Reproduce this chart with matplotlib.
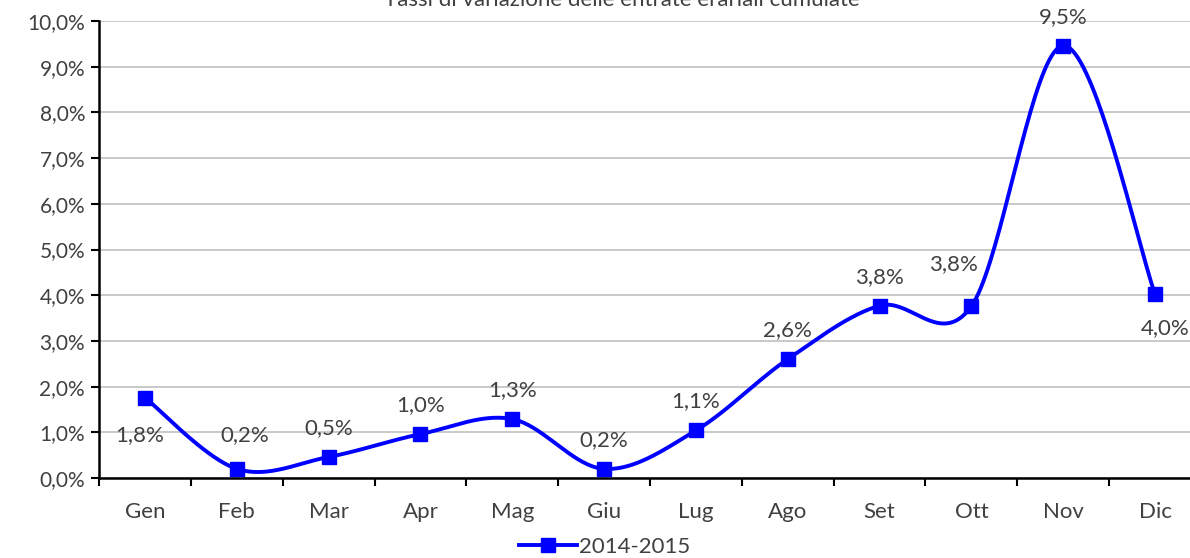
import numpy as np
import matplotlib
matplotlib.use("Agg")
import matplotlib.pyplot as plt
from matplotlib.ticker import FuncFormatter, MultipleLocator
from matplotlib.lines import Line2D

months = ["Gen", "Feb", "Mar", "Apr", "Mag", "Giu", "Lug", "Ago", "Set", "Ott", "Nov", "Dic"]
values = [1.76, 0.20, 0.46, 0.96, 1.29, 0.20, 1.04, 2.60, 3.77, 3.76, 9.46, 4.02]
labels = ["1,8%", "0,2%", "0,5%", "1,0%", "1,3%", "0,2%", "1,1%", "2,6%", "3,8%", "3,8%", "9,5%", "4,0%"]
series_name = "2014-2015"
title = "Tassi di variazione delle entrate erariali cumulate"

plt.rcParams['font.family'] = ['Lato', 'DejaVu Sans']
TXT = '#404040'

fig = plt.figure(figsize=(11.9, 5.58), dpi=100)
ax = fig.add_axes([99/1190, 1-478/558, 1102/1190, 457/558])

x = np.arange(len(values))
y = np.array(values, dtype=float)

# Excel-like smoothed line (cubic Bezier, Catmull-Rom control points)
xs, ys = [], []
n = len(x)
for i in range(n - 1):
    p0 = np.array([x[max(i-1, 0)], y[max(i-1, 0)]])
    p1 = np.array([x[i], y[i]])
    p2 = np.array([x[i+1], y[i+1]])
    p3 = np.array([x[min(i+2, n-1)], y[min(i+2, n-1)]])
    c1 = p1 + (p2 - p0) / 6.0
    c2 = p2 - (p3 - p1) / 6.0
    t = np.linspace(0, 1, 40)[:, None]
    pts = (1-t)**3*p1 + 3*(1-t)**2*t*c1 + 3*(1-t)*t**2*c2 + t**3*p2
    xs.extend(pts[:, 0]); ys.extend(pts[:, 1])

ax.plot(xs, ys, color='#0000FF', lw=2.8, zorder=3)
ax.plot(x, y, ls='none', marker='s', ms=10, color='#0000FF', zorder=4)

ax.set_xlim(-0.5, n - 0.5)
ax.set_ylim(0, 10)
ax.yaxis.set_major_locator(MultipleLocator(1))
ax.yaxis.set_major_formatter(FuncFormatter(lambda v, p: f"{v:.1f}%".replace('.', ',')))
ax.set_xticks(x)
ax.set_xticklabels(months)
ax.set_xticks(np.arange(-0.5, n, 1), minor=True)
ax.tick_params(axis='x', which='major', length=0, pad=17, labelsize=16, labelcolor=TXT)
ax.tick_params(axis='x', which='minor', length=6, width=1.5, direction='out')
ax.tick_params(axis='y', length=6, width=1.5, direction='out', labelsize=15, labelcolor=TXT, pad=4)
ax.grid(axis='y', color='#C0C0C0', lw=1.2)
ax.set_axisbelow(True)
for s in ['top', 'right']:
    ax.spines[s].set_visible(False)
for s in ['left', 'bottom']:
    ax.spines[s].set_linewidth(1.8)

offsets = {0: (-5, -38), 1: (8, 34), 9: (-18, 42), 11: (10, -34)}
for i, (xi, yi, lb) in enumerate(zip(x, y, labels)):
    dx, dy = offsets.get(i, (0, 29))
    ax.annotate(lb, (xi, yi), xytext=(dx, dy), textcoords='offset pixels',
                ha='center', va='center', fontsize=16, color=TXT)

fig.text(622/1190, 1.0, title, ha='center', va='center', fontsize=16, color=TXT)

h = Line2D([], [], color='#0000FF', lw=2.8, marker='s', ms=10)
fig.legend(handles=[h], labels=[series_name], loc='center', bbox_to_anchor=(605/1190, 1-547/558),
           frameon=False, fontsize=16, handlelength=2.6, labelcolor=TXT, borderaxespad=0, handletextpad=0.1)

fig.savefig('out.png', dpi=100)
